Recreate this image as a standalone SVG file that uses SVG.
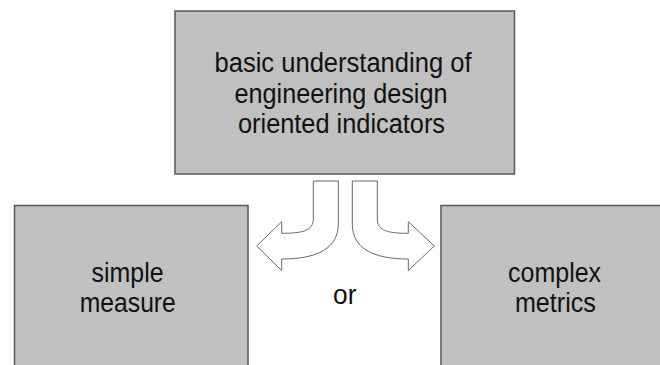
<svg xmlns="http://www.w3.org/2000/svg" width="660" height="365" viewBox="0 0 660 365">
<style>
.box{fill:#c0c0c0;stroke:#5f5f5f;stroke-width:1.6}
.txt{font-family:"Liberation Sans",Arial,sans-serif;font-size:27px;fill:#111;text-anchor:middle}
.arr{fill:#ffffff;stroke:#6a6a6a;stroke-width:1}
</style>
<rect width="660" height="365" fill="#ffffff"/>
<g id="top">
<rect class="box" x="175" y="11" width="339.5" height="163"/>
<text class="txt" x="343" y="72" textLength="257" lengthAdjust="spacingAndGlyphs">basic understanding of</text>
<text class="txt" x="341" y="102.5" textLength="213" lengthAdjust="spacingAndGlyphs">engineering design</text>
<text class="txt" x="341.5" y="133" textLength="207" lengthAdjust="spacingAndGlyphs">oriented indicators</text>
</g>
<g id="left">
<rect class="box" x="14.5" y="205.5" width="233.5" height="170"/>
<text class="txt" x="127.6" y="282" textLength="72" lengthAdjust="spacingAndGlyphs">simple</text>
<text class="txt" x="127.8" y="312" textLength="96" lengthAdjust="spacingAndGlyphs">measure</text>
</g>
<g id="right">
<rect class="box" x="441" y="205.5" width="230" height="170"/>
<text class="txt" x="554.6" y="282" textLength="93" lengthAdjust="spacingAndGlyphs">complex</text>
<text class="txt" x="555.4" y="312" textLength="81" lengthAdjust="spacingAndGlyphs">metrics</text>
</g>
<g id="connectors">
<path class="arr" d="M313.3,181 H338.3 V224 C338.3,248 318,259 281.7,259 V270.5 L256.7,246 L281.7,221.7 V233.3 C302,233.3 313.3,231 313.3,219 Z"/>
<path class="arr" d="M377.3,181 H352.3 V224 C352.3,248 372.6,259 408.3,259 V270.5 L434.3,246 L408.3,221.7 V233.3 C388.6,233.3 377.3,231 377.3,219 Z"/>
<text class="txt" x="344.7" y="303.5" textLength="23.4" lengthAdjust="spacingAndGlyphs">or</text>
</g>
</svg>
